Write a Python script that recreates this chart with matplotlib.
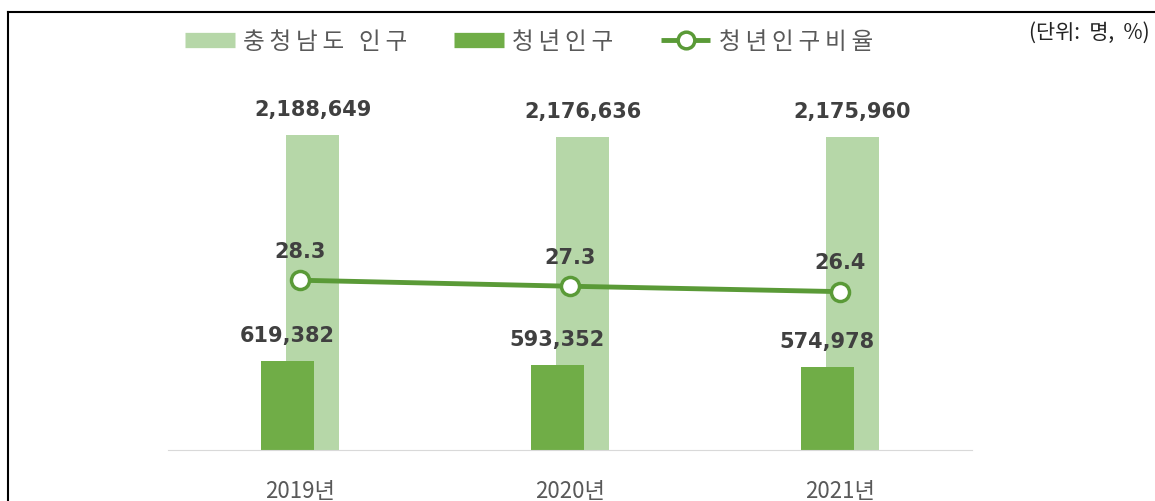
import matplotlib.pyplot as plt
from matplotlib.lines import Line2D
import numpy as np

plt.rcParams['font.family'] = ['Noto Sans CJK KR', 'DejaVu Sans']

years = ['2019년', '2020년', '2021년']
total_pop = [2188649, 2176636, 2175960]
youth_pop = [619382, 593352, 574978]
youth_ratio = [28.3, 27.3, 26.4]
legend_labels = ['충청남도 인구', '청년인구', '청년인구비율']

light = '#b6d7a8'
dark = '#70ad47'
line_c = '#5a9a37'
label_c = '#404040'

fig = plt.figure(figsize=(11.55, 5.02), dpi=100)
ax = fig.add_axes([0.1455, 0.1016, 0.696, 0.717])

x = np.arange(len(years))
w = 0.197
ax.bar(x + 0.047, total_pop, w, color=light, zorder=1)
ax.bar(x - 0.047, youth_pop, w, color=dark, zorder=2)

for i in range(len(years)):
    ax.text(x[i] + 0.047, total_pop[i] + 110000, f'{total_pop[i]:,}', ha='center', va='bottom',
            fontsize=15, fontweight='bold', color=label_c, family='DejaVu Sans')
    ax.text(x[i] - 0.047, youth_pop[i] + 110000, f'{youth_pop[i]:,}', ha='center', va='bottom',
            fontsize=15, fontweight='bold', color=label_c, family='DejaVu Sans')

ax.set_xlim(-0.49, 2.49)
ax.set_ylim(0, 2500000)
ax.set_yticks([])
ax.set_xticks(x)
ax.set_xticklabels(years, fontsize=16, color='#595959')
ax.tick_params(axis='x', length=0, pad=21)
for s in ['top', 'left', 'right']:
    ax.spines[s].set_visible(False)
ax.spines['bottom'].set_color('#d9d9d9')

ax2 = ax.twinx()
ax2.plot(x, youth_ratio, color=line_c, lw=3.5, marker='o', markersize=13,
         markerfacecolor='white', markeredgecolor=line_c, markeredgewidth=2.5, zorder=5)
for i in range(len(years)):
    ax2.text(x[i], youth_ratio[i] + 3.2, f'{youth_ratio[i]}', ha='center', va='bottom',
             fontsize=15, fontweight='bold', color=label_c, family='DejaVu Sans')
ax2.set_ylim(0, 60)
ax2.set_yticks([])
for s in ['top', 'left', 'right', 'bottom']:
    ax2.spines[s].set_visible(False)

# letter-spaced legend text like the original
spaced = ['\u2009 \u2009'.join('\u2009'.join(list(p)) for p in t.split(' ')) for t in legend_labels]
handles = [Line2D([0], [0], color=light, lw=11, solid_capstyle='butt'),
           Line2D([0], [0], color=dark, lw=11, solid_capstyle='butt'),
           Line2D([0], [0], color=line_c, lw=3.5, marker='o', markersize=12, solid_capstyle='butt',
                  markerfacecolor='white', markeredgecolor=line_c, markeredgewidth=2.5)]
fig.legend(handles, spaced, loc='center',
           bbox_to_anchor=(0.458, 0.915), ncol=3, frameon=False, fontsize=17,
           labelcolor='#595959', handlelength=2.1, handletextpad=0.35, columnspacing=2.0)

fig.text(0.995, 0.935, '(단위:  명,  %)', ha='right', va='center', fontsize=15, color='#222222')

fig.add_artist(Line2D([8 / 1155, 8 / 1155], [0, 1 - 13 / 502], color='black', lw=1.5))
fig.add_artist(Line2D([8 / 1155, 1], [1 - 13 / 502, 1 - 13 / 502], color='black', lw=1.5))

fig.savefig('out.png', dpi=100)
